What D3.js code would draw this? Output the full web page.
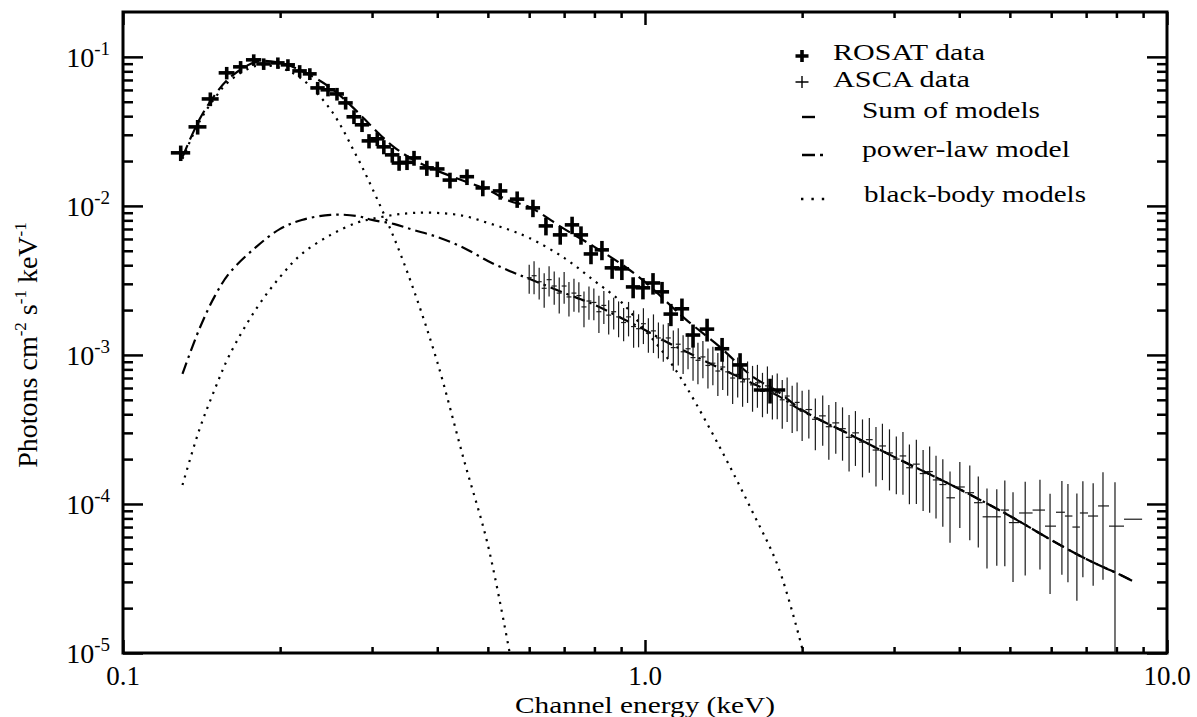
<!DOCTYPE html>
<html>
<head>
<meta charset="utf-8">
<script src="https://cdnjs.cloudflare.com/ajax/libs/d3/7.8.5/d3.min.js"></script>
<style>
  body { margin: 0; background: #fff; }
  svg { display: block; font-family: "Liberation Serif", "Times New Roman", serif; }
  text { white-space: pre; font-family: "Liberation Serif", "Times New Roman", serif; }
</style>
</head>
<body>
<div id="chart"></div>
<script>
// ROSAT spectrum (keV, photons cm-2 s-1 keV-1)
var rosatE = [0.129, 0.139, 0.147, 0.158, 0.168, 0.178, 0.186, 0.198, 0.207, 0.218, 0.228, 0.236, 0.247, 0.257, 0.267, 0.277, 0.287, 0.296, 0.307, 0.316, 0.328, 0.338, 0.350, 0.361, 0.382, 0.400, 0.423, 0.456, 0.489, 0.528, 0.569, 0.610, 0.646, 0.688, 0.725, 0.754, 0.788, 0.827, 0.865, 0.903, 0.949, 0.991, 1.036, 1.078, 1.121, 1.177, 1.236, 1.315, 1.405, 1.521, 1.736];
var rosatF = [0.0227, 0.0339, 0.0522, 0.0781, 0.0857, 0.0955, 0.0897, 0.0911, 0.0884, 0.0805, 0.0769, 0.0619, 0.0601, 0.0564, 0.0491, 0.0396, 0.0350, 0.0273, 0.0282, 0.0249, 0.0220, 0.0194, 0.0196, 0.0210, 0.0180, 0.0177, 0.0149, 0.0157, 0.0132, 0.0126, 0.0111, 0.00970, 0.00734, 0.00639, 0.00746, 0.00639, 0.00476, 0.00507, 0.00384, 0.00378, 0.00286, 0.00282, 0.00304, 0.00265, 0.00188, 0.00204, 0.00136, 0.00149, 0.00110, 0.000857, 0.000582];
var rosatErrE = [0.0055, 0.0055, 0.0055, 0.0055, 0.0055, 0.006, 0.006, 0.006, 0.0065, 0.007, 0.007, 0.0075, 0.008, 0.008, 0.0085, 0.009, 0.009, 0.0095, 0.0095, 0.010, 0.0105, 0.011, 0.011, 0.0115, 0.012, 0.013, 0.0135, 0.0145, 0.0155, 0.017, 0.018, 0.0195, 0.0205, 0.022, 0.023, 0.024, 0.025, 0.026, 0.028, 0.029, 0.030, 0.032, 0.033, 0.034, 0.036, 0.038, 0.040, 0.042, 0.045, 0.050, 0.120];
var rosatErrF = [0.0027, 0.0038, 0.0055, 0.0075, 0.0080, 0.0085, 0.0080, 0.0080, 0.0080, 0.0075, 0.0070, 0.0060, 0.0058, 0.0055, 0.0048, 0.0042, 0.0037, 0.0030, 0.0030, 0.0027, 0.0025, 0.0022, 0.0022, 0.0024, 0.0021, 0.0021, 0.0018, 0.0019, 0.0016, 0.0016, 0.0014, 0.0013, 0.0010, 0.0009, 0.0010, 0.0009, 0.0007, 0.00075, 0.0006, 0.0006, 0.00046, 0.00046, 0.0005, 0.00044, 0.00032, 0.00035, 0.00024, 0.00026, 0.0002, 0.00017, 0.00011];

// ASCA spectrum
var ascaE = [0.600, 0.613, 0.627, 0.641, 0.655, 0.670, 0.685, 0.700, 0.715, 0.731, 0.747, 0.764, 0.781, 0.798, 0.816, 0.834, 0.852, 0.871, 0.890, 0.910, 0.930, 0.951, 0.972, 0.993, 1.015, 1.038, 1.061, 1.084, 1.108, 1.133, 1.158, 1.183, 1.209, 1.236, 1.263, 1.291, 1.320, 1.349, 1.379, 1.409, 1.440, 1.472, 1.505, 1.538, 1.572, 1.607, 1.642, 1.679, 1.716, 1.754, 1.792, 1.832, 1.872, 1.914, 1.956, 2.000,
  2.06, 2.12, 2.19, 2.25, 2.32, 2.39, 2.46, 2.53, 2.61, 2.69, 2.77, 2.85, 2.94, 3.03, 3.12, 3.21, 3.31, 3.41, 3.51, 3.61, 3.72, 3.84, 4.01, 4.19, 4.35, 4.52, 4.72,
  4.89, 5.07, 5.35, 5.71, 5.97, 6.29, 6.46, 6.72, 6.90, 7.22, 7.54, 7.95, 8.61];
var ascaF = [3.3e-3, 3.4e-3, 3.1e-3, 2.8e-3, 3.2e-3, 2.9e-3, 2.6e-3, 2.9e-3, 2.45e-3, 2.6e-3, 2.5e-3, 2.1e-3, 2.3e-3, 2.25e-3, 1.95e-3, 2.15e-3, 1.85e-3, 1.95e-3, 1.8e-3, 1.65e-3, 1.8e-3, 1.55e-3, 1.5e-3, 1.62e-3, 1.4e-3, 1.45e-3, 1.3e-3, 1.25e-3, 1.3e-3, 1.12e-3, 1.18e-3, 1.05e-3, 1.1e-3, 9.6e-4, 9.2e-4, 9.7e-4, 8.5e-4, 8.8e-4, 7.8e-4, 8.3e-4, 7.7e-4, 7.0e-4, 7.4e-4, 6.6e-4, 6.9e-4, 6.3e-4, 6.5e-4, 5.7e-4, 6.2e-4, 5.5e-4, 5.6e-4, 5.0e-4, 5.3e-4, 4.6e-4, 4.8e-4, 4.2e-4,
  4.3e-4, 3.7e-4, 3.9e-4, 3.3e-4, 3.5e-4, 3.2e-4, 2.8e-4, 3.0e-4, 2.6e-4, 2.7e-4, 2.3e-4, 2.45e-4, 2.2e-4, 2.0e-4, 2.1e-4, 1.75e-4, 1.85e-4, 1.6e-4, 1.65e-4, 1.45e-4, 1.35e-4, 1.10e-4, 1.30e-4, 1.19e-4, 1.02e-4, 8.2e-5, 8.2e-5,
  9.1e-5, 7.5e-5, 8.7e-5, 9.1e-5, 7.1e-5, 8.8e-5, 8.3e-5, 7.0e-5, 8.7e-5, 8.3e-5, 9.7e-5, 7.1e-5, 7.9e-5];
// fractional 1-sigma errors on the ASCA fluxes
var ascaFracErr = [0.22, 0.25, 0.24, 0.26, 0.23, 0.25, 0.27, 0.24, 0.26, 0.25, 0.23, 0.27, 0.25, 0.24, 0.28, 0.25, 0.26, 0.24, 0.27, 0.25, 0.26, 0.28, 0.25, 0.27, 0.26, 0.29, 0.27, 0.28, 0.26, 0.30, 0.28, 0.29, 0.27, 0.30, 0.31, 0.28, 0.30, 0.29, 0.32, 0.30, 0.31, 0.33, 0.30, 0.32, 0.31, 0.34, 0.32, 0.33, 0.35, 0.33, 0.34, 0.36, 0.33, 0.35, 0.36, 0.37,
  0.36, 0.38, 0.37, 0.40, 0.38, 0.39, 0.41, 0.40, 0.42, 0.40, 0.43, 0.41, 0.44, 0.42, 0.45, 0.43, 0.46, 0.44, 0.47, 0.45, 0.48, 0.50, 0.47, 0.52, 0.50, 0.55, 0.53,
  0.58, 0.60, 0.62, 0.60, 0.65, 0.62, 0.64, 0.68, 0.63, 0.66, 0.68, 0.97, 0];

// fitted models, sampled on a common energy grid
var modelE = [0.13, 0.14, 0.15, 0.16, 0.18, 0.20, 0.22, 0.25, 0.28, 0.30, 0.33, 0.36, 0.40, 0.45, 0.50, 0.55, 0.60, 0.70, 0.80, 0.90, 1.0, 1.1, 1.2, 1.4, 1.6, 1.8, 2.0, 2.5, 3, 4, 5, 6, 7, 8, 8.6];
var sumModel = [2.13e-2, 3.78e-2, 5.56e-2, 7.23e-2, 9.26e-2, 9.12e-2, 8.05e-2, 6.19e-2, 4.34e-2, 3.39e-2, 2.49e-2, 2.04e-2, 1.72e-2, 1.47e-2, 1.28e-2, 1.08e-2, 9.85e-3, 7.01e-3, 5.31e-3, 4.08e-3, 3.09e-3, 2.27e-3, 1.72e-3, 1.11e-3, 7.23e-4, 5.65e-4, 4.27e-4, 2.86e-4, 2.07e-4, 1.26e-4, 8.31e-5, 5.73e-5, 4.27e-5, 3.44e-5, 3.04e-5];
var powerLawModel = [7.46e-4, 1.49e-3, 2.49e-3, 3.55e-3, 5.31e-3, 7.01e-3, 8.05e-3, 8.70e-3, 8.57e-3, 8.05e-3, 7.57e-3, 6.90e-3, 6.19e-3, 5.22e-3, 4.27e-3, 3.66e-3, 3.24e-3, 2.61e-3, 2.17e-3, 1.77e-3, 1.47e-3, 1.22e-3, 1.05e-3, 8.05e-4, 6.49e-4, 5.31e-4, 4.21e-4, 2.86e-4, 2.07e-4, 1.26e-4, 8.31e-5, 5.73e-5, 4.27e-5, 3.44e-5, 3.04e-5];
var bbLowModel = [2.07e-2, 3.66e-2, 5.31e-2, 6.90e-2, 8.70e-2, 8.44e-2, 7.12e-2, 4.41e-2, 2.17e-2, 1.32e-2, 6.19e-3, 2.77e-3, 8.97e-4, 1.97e-4, 5.31e-5, 1.02e-5];
var bbHighModel = [1.34e-4, 3.14e-4, 5.91e-4, 1.00e-3, 2.04e-3, 3.34e-3, 4.76e-3, 6.39e-3, 7.69e-3, 8.18e-3, 8.70e-3, 8.97e-3, 8.97e-3, 8.57e-3, 7.69e-3, 6.90e-3, 6.10e-3, 4.48e-3, 3.14e-3, 2.27e-3, 1.47e-3, 9.70e-4, 6.10e-4, 2.30e-4, 9.12e-5, 3.78e-5, 1.08e-5];

// ticks and labels
var xMajorTicks = [0.1, 1, 10];
var xTickLabels = ["0.1", "1.0", "10.0"];
var xMinorTicks = [0.2, 0.3, 0.4, 0.5, 0.6, 0.7, 0.8, 0.9, 2, 3, 4, 5, 6, 7, 8, 9];
var yMajorTicks = [1e-5, 1e-4, 1e-3, 1e-2, 1e-1];
var yTickExponents = ["-5", "-4", "-3", "-2", "-1"];
var yMinorTicks = [2e-5, 3e-5, 4e-5, 5e-5, 6e-5, 7e-5, 8e-5, 9e-5, 2e-4, 3e-4, 4e-4, 5e-4, 6e-4, 7e-4, 8e-4, 9e-4, 2e-3, 3e-3, 4e-3, 5e-3, 6e-3, 7e-3, 8e-3, 9e-3, 2e-2, 3e-2, 4e-2, 5e-2, 6e-2, 7e-2, 8e-2, 9e-2];
var legendLabels = ["ROSAT data", "ASCA data", "Sum of models", "power-law model", "black-body models"];

var W = 1197, H = 717;
var plot = {left: 123, right: 1167, top: 12, bottom: 653};
var serif = "Liberation Serif, Times New Roman, serif";

var svg = d3.select("#chart").append("svg")
    .attr("width", W)
    .attr("height", H);

var x = d3.scaleLog().domain([0.1, 10]).range([plot.left, plot.right]);
var y = d3.scaleLog().domain([1e-5, 0.2]).range([plot.bottom, plot.top]);

svg.append("clipPath").attr("id", "plot-clip")
  .append("rect")
    .attr("x", plot.left).attr("y", plot.top)
    .attr("width", plot.right - plot.left).attr("height", plot.bottom - plot.top);

// ---- axes: ticks point inward on all four sides
function styleTicks(g) {
  g.select(".domain").remove();
  g.selectAll(".tick text").remove();
  g.selectAll(".tick line").attr("stroke", "#000").attr("stroke-width", 2.5);
}
svg.append("g").attr("transform", "translate(0," + plot.bottom + ")")
  .call(d3.axisBottom(x).tickValues(xMinorTicks).tickSize(-6).tickFormat("")).call(styleTicks);
svg.append("g").attr("transform", "translate(0," + plot.bottom + ")")
  .call(d3.axisBottom(x).tickValues(xMajorTicks).tickSize(-13).tickFormat("")).call(styleTicks);
svg.append("g").attr("transform", "translate(0," + plot.top + ")")
  .call(d3.axisTop(x).tickValues(xMinorTicks).tickSize(-6).tickFormat("")).call(styleTicks);
svg.append("g").attr("transform", "translate(0," + plot.top + ")")
  .call(d3.axisTop(x).tickValues(xMajorTicks).tickSize(-13).tickFormat("")).call(styleTicks);
svg.append("g").attr("transform", "translate(" + plot.left + ",0)")
  .call(d3.axisLeft(y).tickValues(yMinorTicks).tickSize(-10).tickFormat("")).call(styleTicks);
svg.append("g").attr("transform", "translate(" + plot.left + ",0)")
  .call(d3.axisLeft(y).tickValues(yMajorTicks).tickSize(-20).tickFormat("")).call(styleTicks);
svg.append("g").attr("transform", "translate(" + plot.right + ",0)")
  .call(d3.axisRight(y).tickValues(yMinorTicks).tickSize(-10).tickFormat("")).call(styleTicks);
svg.append("g").attr("transform", "translate(" + plot.right + ",0)")
  .call(d3.axisRight(y).tickValues(yMajorTicks).tickSize(-20).tickFormat("")).call(styleTicks);

// frame
svg.append("rect")
  .attr("x", plot.left).attr("y", plot.top)
  .attr("width", plot.right - plot.left).attr("height", plot.bottom - plot.top)
  .attr("fill", "none").attr("stroke", "#000").attr("stroke-width", 3);

// x tick labels
svg.append("g").selectAll("text")
  .data(xMajorTicks)
  .join("text")
    .attr("x", function(d) { return x(d); })
    .attr("y", 685)
    .attr("text-anchor", "middle")
    .attr("font-family", serif)
    .attr("font-size", 27)
    .text(function(d, i) { return xTickLabels[i]; });

// y tick labels: 10 with a raised exponent
var yLab = svg.append("g").selectAll("text")
  .data(yMajorTicks)
  .join("text")
    .attr("x", 110)
    .attr("y", function(d) { return y(d) + 10; })
    .attr("text-anchor", "end")
    .attr("font-family", serif)
    .attr("font-size", 28);
yLab.append("tspan").text("10");
yLab.append("tspan").attr("dy", -12).attr("font-size", 19)
  .text(function(d, i) { return yTickExponents[i]; });

// axis titles
svg.append("text")
  .attr("x", (plot.left + plot.right) / 2)
  .attr("y", 713)
  .attr("text-anchor", "middle")
  .attr("font-family", serif)
  .attr("font-size", 24)
  .attr("textLength", 260)
  .attr("lengthAdjust", "spacingAndGlyphs")
  .text("Channel energy (keV)");

var yTitle = svg.append("text")
  .attr("transform", "translate(37,345) rotate(-90)")
  .attr("text-anchor", "middle")
  .attr("font-family", serif)
  .attr("font-size", 28);
[["Photons cm", 0], ["-2", 1], [" s", 0], ["-1", 1], [" keV", 0], ["-1", 1]].forEach(function(p, i, arr) {
  var prevSup = i > 0 && arr[i - 1][1];
  yTitle.append("tspan")
    .attr("dy", p[1] ? -11 : (prevSup ? 11 : 0))
    .attr("font-size", p[1] ? 17 : 28)
    .text(p[0]);
});

// ---- data and models
var area = svg.append("g").attr("clip-path", "url(#plot-clip)");

function series(vals) {
  return modelE.map(function(e, i) { return {e: e, f: vals[i]}; })
    .filter(function(d) { return d.f != null; });
}
var line = d3.line()
  .x(function(d) { return x(d.e); })
  .y(function(d) { return y(d.f); })
  .curve(d3.curveCatmullRom.alpha(0.5));

var models = [
  {vals: sumModel, dash: "13,6"},
  {vals: powerLawModel, dash: "12,5,2.5,5"},
  {vals: bbLowModel, dash: "2.2,5.8"},
  {vals: bbHighModel, dash: "2.2,5.8"}
];
area.selectAll("path.model")
  .data(models)
  .join("path")
    .attr("class", "model")
    .attr("d", function(m) { return line(series(m.vals)); })
    .attr("fill", "none")
    .attr("stroke", "#000")
    .attr("stroke-width", 2.2)
    .attr("stroke-dasharray", function(m) { return m.dash; });

// ASCA: thin crosses, horizontal bar spans the channel bin
var asca = ascaE.map(function(e, i) {
  var lo = i > 0 ? Math.sqrt(ascaE[i - 1] * e) : e * e / Math.sqrt(e * ascaE[i + 1]);
  var hi = i < ascaE.length - 1 ? Math.sqrt(e * ascaE[i + 1]) : e * e / Math.sqrt(ascaE[i - 1] * e);
  var err = ascaF[i] * ascaFracErr[i];
  return {e: e, f: ascaF[i], lo: lo, hi: hi, fLo: Math.max(ascaF[i] - err, 1e-6), fHi: ascaF[i] + err};
});
var ag = area.append("g").attr("stroke", "#1a1a1a").attr("stroke-width", 1.2);
ag.selectAll("line.h").data(asca).join("line").attr("class", "h")
  .attr("x1", function(d) { return x(d.lo); }).attr("x2", function(d) { return x(d.hi); })
  .attr("y1", function(d) { return y(d.f); }).attr("y2", function(d) { return y(d.f); });
ag.selectAll("line.v").data(asca.filter(function(d) { return d.fHi > d.f; })).join("line").attr("class", "v")
  .attr("x1", function(d) { return x(d.e); }).attr("x2", function(d) { return x(d.e); })
  .attr("y1", function(d) { return y(d.fLo); }).attr("y2", function(d) { return y(d.fHi); });

// ROSAT: bold crosses
var rosat = rosatE.map(function(e, i) {
  return {e: e, f: rosatF[i], de: rosatErrE[i], df: rosatErrF[i]};
});
var rg = area.append("g").attr("stroke", "#000").attr("stroke-width", 3.6);
rg.selectAll("line.h").data(rosat).join("line").attr("class", "h")
  .attr("x1", function(d) { return x(d.e - d.de); }).attr("x2", function(d) { return x(d.e + d.de); })
  .attr("y1", function(d) { return y(d.f); }).attr("y2", function(d) { return y(d.f); });
rg.selectAll("line.v").data(rosat).join("line").attr("class", "v")
  .attr("x1", function(d) { return x(d.e); }).attr("x2", function(d) { return x(d.e); })
  .attr("y1", function(d) { return y(d.f - d.df); }).attr("y2", function(d) { return y(d.f + d.df); });

// ---- legend
var legend = svg.append("g");
var legendText = [[833, 60, 152], [833, 87, 137], [862, 118, 178], [862, 157, 208], [864, 202, 222]];
legend.selectAll("text")
  .data(legendLabels)
  .join("text")
    .attr("x", function(d, i) { return legendText[i][0]; })
    .attr("y", function(d, i) { return legendText[i][1]; })
    .attr("font-family", serif)
    .attr("font-size", 24)
    .attr("textLength", function(d, i) { return legendText[i][2]; })
    .attr("lengthAdjust", "spacingAndGlyphs")
    .text(function(d) { return d; });

function legendCross(cx, cy, w) {
  legend.append("path")
    .attr("d", "M" + (cx - 6.5) + "," + cy + "H" + (cx + 6.5) + "M" + cx + "," + (cy - 6) + "V" + (cy + 6))
    .attr("stroke", "#000").attr("stroke-width", w).attr("fill", "none");
}
legendCross(802, 56, 3.6);
legendCross(802, 82, 1.4);
legend.append("path").attr("d", "M802,117H815").attr("stroke", "#000").attr("stroke-width", 2.4);
legend.append("path").attr("d", "M802,155H815M820,155H823").attr("stroke", "#000").attr("stroke-width", 2.4);
legend.append("path").attr("d", "M801,199H825").attr("stroke", "#000").attr("stroke-width", 2.4)
  .attr("stroke-dasharray", "2.4,8");
</script>
</body>
</html>
